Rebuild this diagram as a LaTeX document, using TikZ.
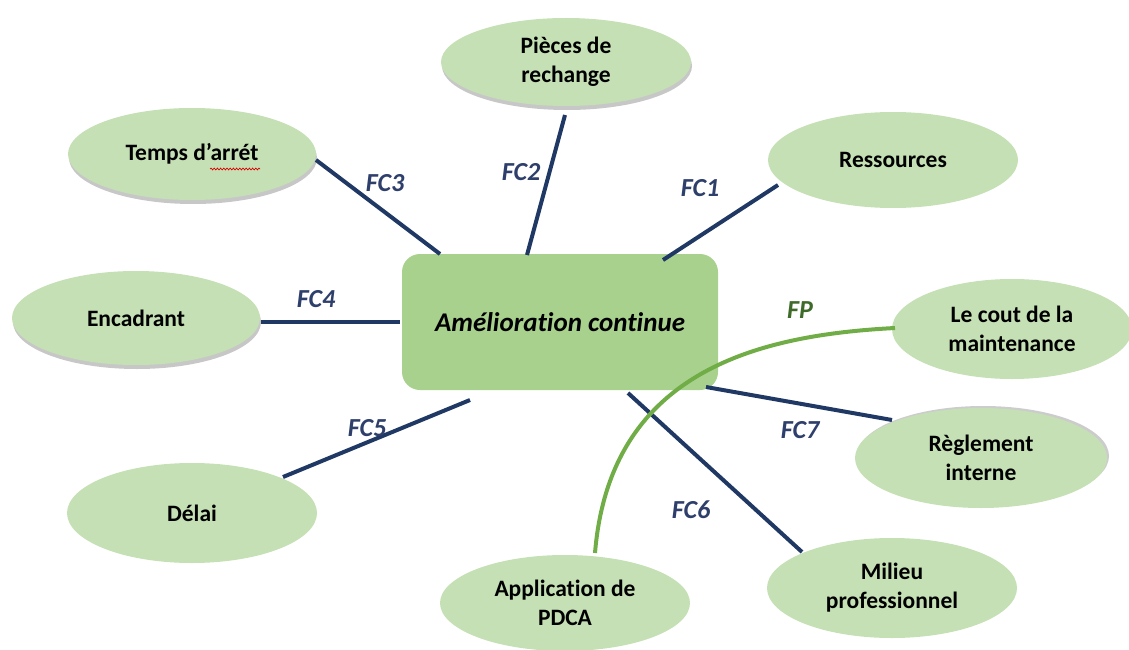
\documentclass[tikz,border=0pt]{standalone}
\usepackage{fontspec}
\setmainfont{Carlito}[Ligatures={NoCommon}]
\usetikzlibrary{shapes.geometric,shadows,decorations.pathmorphing}
\definecolor{leaf}{HTML}{C5E0B4}
\definecolor{core}{HTML}{A9D18E}
\definecolor{navy}{HTML}{203864}
\definecolor{fcblue}{HTML}{2F3F6B}
\definecolor{fpline}{HTML}{70AD47}
\definecolor{fptext}{HTML}{3F6B2A}
\tikzset{
  leafnode/.style={ellipse, fill=leaf, draw=none, inner sep=0pt, align=center,
    font=\bfseries\fontsize{23.5}{29}\selectfont},
  shadowed/.style={drop shadow={shadow xshift=1pt, shadow yshift=-4pt, fill=black!40, opacity=0.55}},
  shadowedup/.style={drop shadow={shadow xshift=2pt, shadow yshift=2pt, fill=black!40, opacity=0.5}},
  corenode/.style={rectangle, rounded corners=18pt, fill=core, draw=none,
    minimum width=316pt, minimum height=136pt, inner sep=0pt,
    font=\bfseries\itshape\fontsize{27}{32}\selectfont},
  link/.style={draw=navy, line width=4pt},
  fplink/.style={draw=fpline, line width=4pt},
  fclabel/.style={font=\bfseries\itshape\fontsize{26}{30}\selectfont, text=fcblue},
  fplabel/.style={font=\bfseries\itshape\fontsize{26}{30}\selectfont, text=fptext}
}
\begin{document}
\begin{tikzpicture}[x=1pt, y=-1pt]
\useasboundingbox (0,0) rectangle (1129,650);

% central box
\node[corenode] (core) at (560,322) {Amélioration continue};

% surrounding ellipses
\node[leafnode, shadowed, minimum width=250pt, minimum height=88pt] (pieces) at (566,62) {Pièces de\\rechange};
\node[leafnode, shadowed, minimum width=248pt, minimum height=92pt] (temps) at (192,154) {Temps d’arrét};
\node[leafnode, minimum width=250pt, minimum height=96pt] (ress) at (893,160) {Ressources};
\node[leafnode, shadowed, minimum width=248pt, minimum height=94pt] (enc) at (136,318) {Encadrant};
\node[leafnode, minimum width=240pt, minimum height=100pt] (cout) at (1012,329) {Le cout de la\\maintenance};
\node[leafnode, shadowedup, minimum width=252pt, minimum height=100pt] (regl) at (981,458) {Règlement\\interne};
\node[leafnode, minimum width=250pt, minimum height=100pt] (delai) at (192,513) {Délai};
\node[leafnode, minimum width=250pt, minimum height=96pt] (pdca) at (565,603) {Application de\\PDCA};
\node[leafnode, minimum width=250pt, minimum height=100pt] (milieu) at (892,588) {Milieu\\professionnel};

% spell-check mark under the word
\draw[red!85!black, line width=0.7pt, decorate,
  decoration={snake, amplitude=0.9pt, segment length=3.2pt}]
  (210,169) -- (260,169);

% connector end points
\coordinate (c1) at (663,260);  \coordinate (e1) at (778,185);
\coordinate (c2) at (527,255);  \coordinate (e2) at (565,115);
\coordinate (c3) at (440,254);  \coordinate (e3) at (316,160);
\coordinate (c4) at (400,322);  \coordinate (e4) at (261,322);
\coordinate (c5) at (470,400);  \coordinate (e5) at (283,477);
\coordinate (c6) at (628,393);  \coordinate (e6) at (802,552);
\coordinate (c7) at (706,387);  \coordinate (e7) at (892,420);
\coordinate (f0) at (895,328);  \coordinate (f1) at (595,553);

% constraint functions
\draw[link] (c1) -- (e1);
\draw[link] (c2) -- (e2);
\draw[link] (c3) -- (e3);
\draw[link] (c4) -- (e4);
\draw[link] (c5) -- (e5);
\draw[link] (c6) -- (e6);
\draw[link] (c7) -- (e7);

% main function
\draw[fplink] (f0) .. controls (760,335) and (610,370) .. (f1);

% labels
\node[fclabel] (l1) at (700,188) {FC1};
\node[fclabel] (l2) at (521,172) {FC2};
\node[fclabel] (l3) at (385,183) {FC3};
\node[fclabel] (l4) at (316,299) {FC4};
\node[fclabel] (l5) at (367,428) {FC5};
\node[fclabel] (l6) at (691,510) {FC6};
\node[fclabel] (l7) at (800,430) {FC7};
\node[fplabel] (lp) at (800,310) {FP};
\end{tikzpicture}
\end{document}
